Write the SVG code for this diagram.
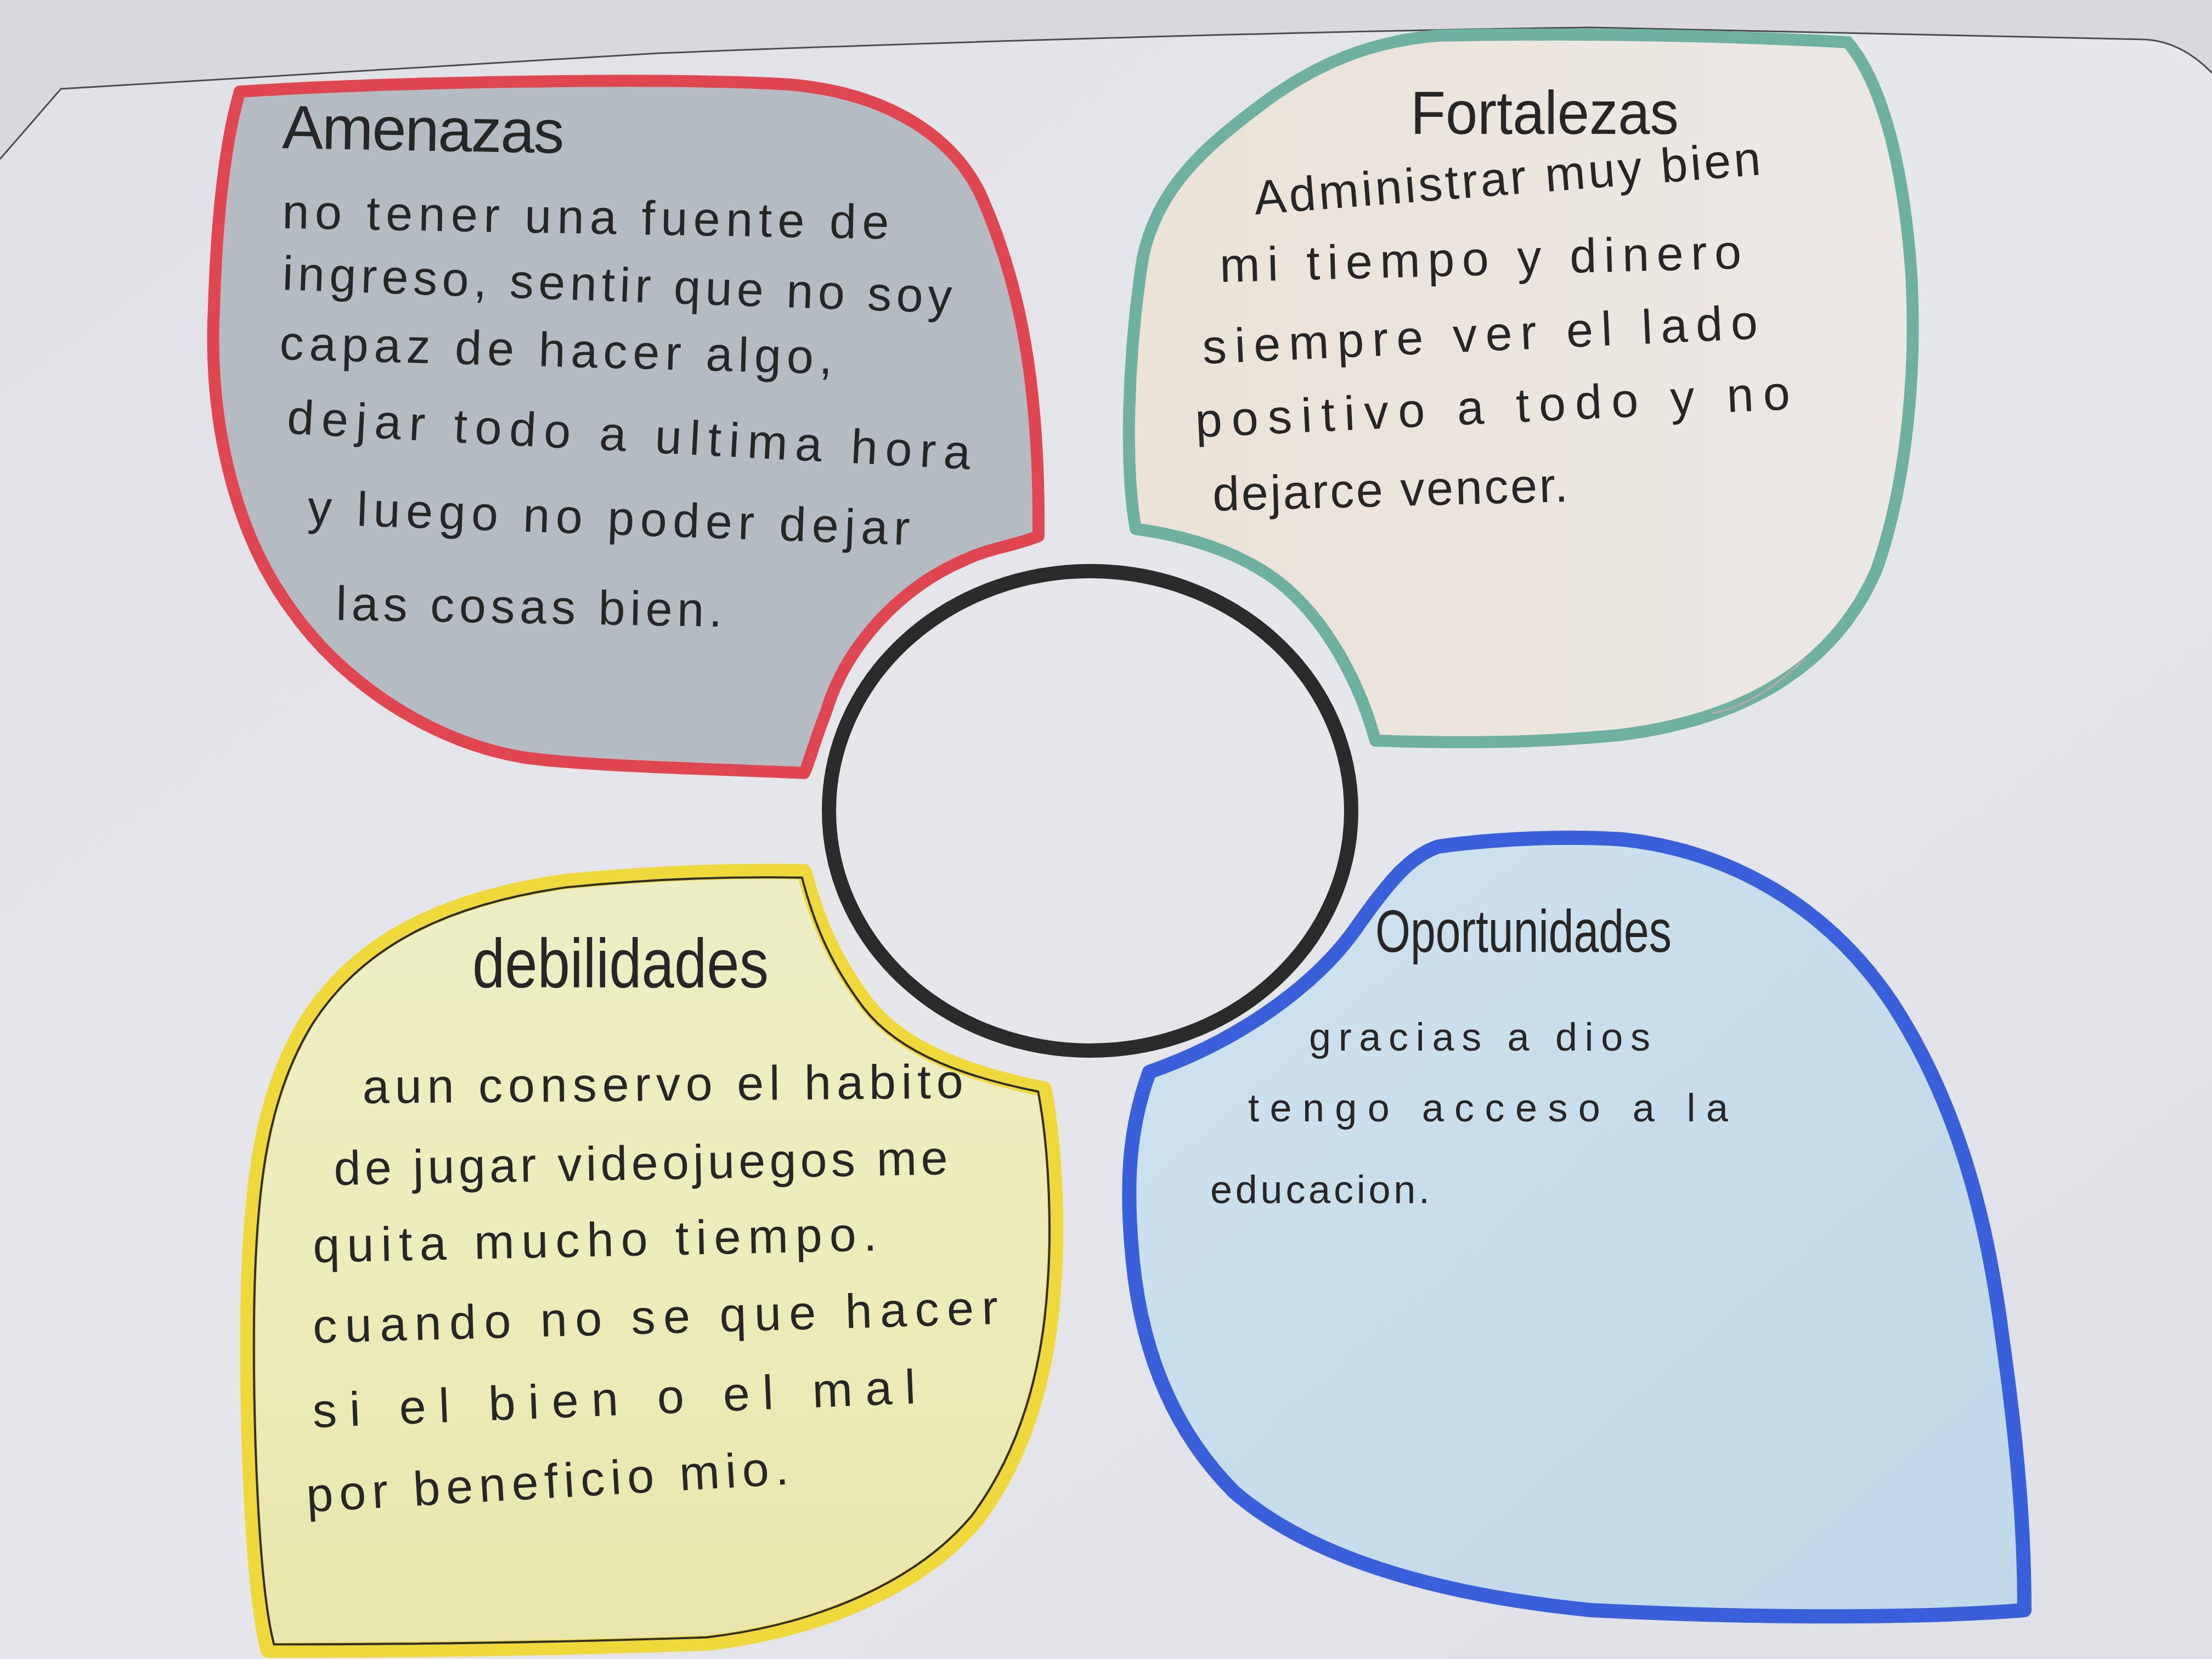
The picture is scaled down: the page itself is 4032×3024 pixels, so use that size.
<svg xmlns="http://www.w3.org/2000/svg" width="4032" height="3024" viewBox="0 0 4032 3024">
  <defs>
    <linearGradient id="paper" x1="0" y1="0" x2="1" y2="1">
      <stop offset="0" stop-color="#e0e1e6"/>
      <stop offset="0.5" stop-color="#e6e7eb"/>
      <stop offset="1" stop-color="#dfe0e5"/>
    </linearGradient>
    <linearGradient id="yellowFill" x1="0" y1="0" x2="0" y2="1">
      <stop offset="0" stop-color="#eeeec6"/>
      <stop offset="0.6" stop-color="#ecebb8"/>
      <stop offset="1" stop-color="#e9e6ab"/>
    </linearGradient>
    <linearGradient id="blueFill" x1="0" y1="0" x2="1" y2="1">
      <stop offset="0" stop-color="#cfe2ee"/>
      <stop offset="1" stop-color="#c0d8e8"/>
    </linearGradient>
    <linearGradient id="creamFill" x1="0" y1="0" x2="1" y2="0">
      <stop offset="0" stop-color="#ece2d6"/>
      <stop offset="1" stop-color="#ebe8e6"/>
    </linearGradient>
  </defs>
  <style>
    .hand { font-family: "Liberation Sans", "DejaVu Sans", sans-serif; fill: #262626; }
    .title { font-size: 112px; }
    .body { font-size: 88px; }
    .small { font-size: 72px; }
    .petal { stroke-linejoin: round; stroke-linecap: round; }
  </style>

  <!-- paper background with the page edge along the top -->
  <rect x="0" y="0" width="4032" height="3024" fill="url(#paper)"/>
  <path d="M0,0 H4032 V133 C4000,100 3960,75 3911,72 L2900,50 C2200,60 1500,85 1200,97 L111,162 L0,290 Z" fill="#d9d9dd"/>
  <path d="M0,290 L111,162 L1200,97 C1500,85 2200,60 2900,50 L3911,72 C3960,75 4000,100 4032,133" fill="none" stroke="#4d4e52" stroke-width="3"/>

  <!-- Amenazas -->
  <g id="node-amenazas">
    <path class="petal" d="M437,167 C700,150 1200,140 1440,154 C1620,170 1740,250 1790,360 C1860,520 1895,700 1893,977 C1850,995 1800,1000 1760,1020 C1640,1070 1540,1180 1505,1300 C1485,1350 1475,1390 1466,1409 C1250,1400 1050,1395 950,1380 C780,1350 620,1240 530,1110 C420,960 380,750 390,560 C395,400 410,260 437,167 Z" fill="#b4bbc2" stroke="#e0464f" stroke-width="22"/>
    <text class="hand title" x="514" y="270" textLength="514" transform="rotate(1 514 270)">Amenazas</text>
    <text class="hand body" x="514" y="416" textLength="1106" transform="rotate(1 514 416)">no tener una fuente de</text>
    <text class="hand body" x="514" y="528" textLength="1221" transform="rotate(2 514 528)">ingreso, sentir que no soy</text>
    <text class="hand body" x="509" y="655" textLength="1008" transform="rotate(1.5 509 655)">capaz de hacer algo,</text>
    <text class="hand body" x="522" y="790" textLength="1247" transform="rotate(3 522 790)">dejar todo a ultima hora</text>
    <text class="hand body" x="560" y="955" textLength="1098" transform="rotate(2 560 955)">y luego no poder dejar</text>
    <text class="hand body" x="612" y="1130" textLength="704" transform="rotate(1 612 1130)">las cosas bien.</text>
  </g>

  <!-- Fortalezas -->
  <g id="node-fortalezas">
    <path class="petal" d="M2300,190 C2400,115 2500,75 2620,65 C2900,60 3150,65 3368,77 C3430,150 3470,300 3484,500 C3495,700 3470,900 3420,1040 C3350,1200 3200,1310 2950,1340 C2800,1355 2650,1355 2507,1350 C2480,1250 2420,1130 2330,1060 C2250,1000 2150,975 2070,964 C2050,850 2055,650 2083,470 C2110,340 2200,265 2300,190 Z" fill="url(#creamFill)" stroke="#6eb1a1" stroke-width="22"/>
    <path d="M3290,1200 C3240,1250 3180,1290 3120,1300" fill="none" stroke="#a9aaa9" stroke-width="4"/>
    <text class="hand title" x="2571" y="244" textLength="489" lengthAdjust="spacingAndGlyphs">Fortalezas</text>
    <text class="hand body" x="2288" y="391" textLength="926" transform="rotate(-4.5 2288 391)">Administrar muy bien</text>
    <text class="hand body" x="2224" y="514" textLength="951" transform="rotate(-1.5 2224 514)">mi tiempo y dinero</text>
    <text class="hand body" x="2193" y="663" textLength="1013" transform="rotate(-2.6 2193 663)">siempre ver el lado</text>
    <text class="hand body" x="2180" y="797" textLength="1085" transform="rotate(-2.7 2180 797)">positivo a todo y no</text>
    <text class="hand body" x="2211" y="931" textLength="648" transform="rotate(-1.5 2211 931)">dejarce vencer.</text>
  </g>

  <!-- centre ring -->
  <g id="node-centro">
    <ellipse cx="1987" cy="1478" rx="476" ry="437" fill="none" stroke="#2b2b2b" stroke-width="26"/>
  </g>

  <!-- Debilidades -->
  <g id="node-debilidades">
    <path class="petal" d="M1466,1589 C1490,1680 1520,1750 1580,1830 C1650,1920 1780,1960 1903,1985 C1925,2100 1928,2250 1920,2350 C1910,2500 1870,2650 1780,2770 C1680,2890 1500,2970 1290,2995 C1000,3005 700,3008 489,3008 C460,2900 450,2600 452,2400 C455,2150 480,1990 560,1860 C650,1720 800,1640 1030,1607 C1200,1590 1350,1587 1466,1589 Z" fill="url(#yellowFill)" stroke="#efd83a" stroke-width="28"/>
    <path d="M1466,1589 C1490,1680 1520,1750 1580,1830 C1650,1920 1780,1960 1903,1985 C1925,2100 1928,2250 1920,2350 C1910,2500 1870,2650 1780,2770 C1680,2890 1500,2970 1290,2995 C1000,3005 700,3008 489,3008 C460,2900 450,2600 452,2400 C455,2150 480,1990 560,1860 C650,1720 800,1640 1030,1607 C1200,1590 1350,1587 1466,1589 Z" fill="none" stroke="#2e2e2e" stroke-width="4" transform="translate(1190 2300) scale(0.985) translate(-1190 -2300)"/>
    <text class="hand title" x="861" y="1800" textLength="540" lengthAdjust="spacingAndGlyphs" style="font-size:126px">debilidades</text>
    <text class="hand body" x="661" y="2011" textLength="1095" transform="rotate(-0.5 661 2011)">aun conservo el habito</text>
    <text class="hand body" x="609" y="2160" textLength="1119" transform="rotate(-1 609 2160)">de jugar videojuegos me</text>
    <text class="hand body" x="571" y="2301" textLength="1028" transform="rotate(-1.2 571 2301)">quita mucho tiempo.</text>
    <text class="hand body" x="571" y="2448" textLength="1249" transform="rotate(-1.6 571 2448)">cuando no se que hacer</text>
    <text class="hand body" x="571" y="2602" textLength="1100" transform="rotate(-2.3 571 2602)">si el bien o el mal</text>
    <text class="hand body" x="560" y="2756" textLength="880" transform="rotate(-3.3 560 2756)">por beneficio mio.</text>
  </g>

  <!-- Oportunidades -->
  <g id="node-oportunidades">
    <path class="petal" d="M2095,1954 C2250,1900 2400,1800 2480,1680 C2530,1610 2570,1560 2622,1543 C2750,1525 2880,1525 2957,1530 C3150,1550 3330,1650 3450,1830 C3560,2000 3620,2200 3650,2440 C3680,2650 3690,2800 3690,2935 C3500,2950 3200,2950 2900,2935 C2650,2910 2400,2850 2250,2720 C2130,2600 2080,2450 2065,2300 C2050,2150 2060,2050 2095,1954 Z" fill="url(#blueFill)" stroke="#3a5fdb" stroke-width="26"/>
    <text class="hand title" x="2507" y="1735" textLength="540" lengthAdjust="spacingAndGlyphs" style="font-size:110px">Oportunidades</text>
    <text class="hand small" x="2386" y="1915" textLength="622">gracias a dios</text>
    <text class="hand small" x="2275" y="2044" textLength="875">tengo acceso a la</text>
    <text class="hand small" x="2206" y="2193" textLength="400">educacion.</text>
  </g>

  <!-- no connectors are drawn between the petals -->
  <g id="connectors"/>
</svg>
